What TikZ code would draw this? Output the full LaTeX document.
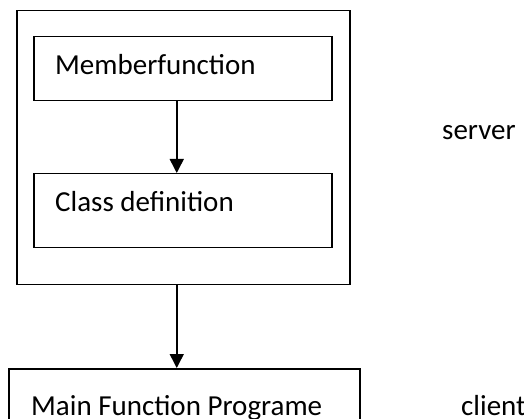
\documentclass[tikz,border=0pt]{standalone}
\usepackage{fontspec}
\setmainfont{Carlito}
\usetikzlibrary{arrows.meta}
\begin{document}
\begin{tikzpicture}[x=1pt,y=-1pt,
  frame/.style={draw, line width=1.5pt, rectangle, inner sep=0pt},
  txt/.style={anchor=base west, inner sep=0pt, font=\fontsize{29}{34}\selectfont},
  arr/.style={line width=1.5pt, -{Triangle[width=14pt,length=14pt]}}]
  \useasboundingbox (0,0) rectangle (524,419);
  \clip (0,0) rectangle (524,419);
  % outer container holding the class
  \node[frame, minimum width=333pt, minimum height=274pt, anchor=north west] (outer) at (16,10) {};
  \node[frame, minimum width=298pt, minimum height=64pt, anchor=north west] (mf) at (33,36) {};
  \node[frame, minimum width=298pt, minimum height=74pt, anchor=north west] (cd) at (33,173) {};
  \node[frame, minimum width=351pt, minimum height=70pt, anchor=north west] (mainbox) at (8,368) {};
  % labels
  \node[txt] (mft) at (55,75) {Memberfunction};
  \node[txt] (cdt) at (55,212) {Class definition};
  \node[txt] (mnt) at (31,415) {Main Function Programe};
  \node[txt] (srv) at (442,140) {server};
  \node[txt] (cli) at (461,415) {client};
  % connectors
  \draw[arr] ([xshift=-6pt]mf.south) -- ([xshift=-6pt]cd.north);
  \draw[arr] ([xshift=-6.5pt]outer.south) -- ([xshift=-7.5pt]mainbox.north);
\end{tikzpicture}
\end{document}
